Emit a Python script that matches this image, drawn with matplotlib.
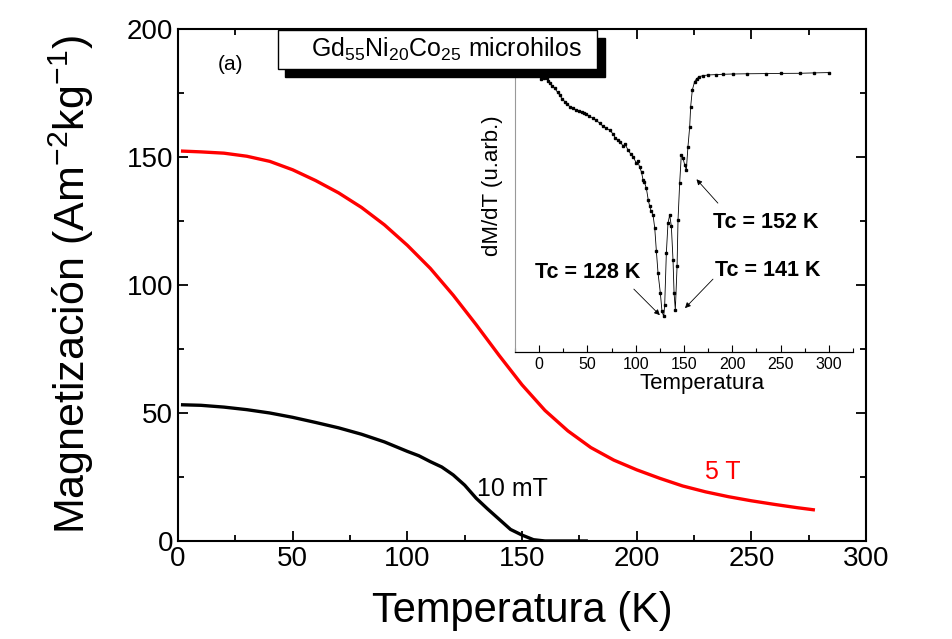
import matplotlib
matplotlib.use('Agg')
import matplotlib.pyplot as plt
from matplotlib.patches import Rectangle
from matplotlib.ticker import MultipleLocator

plt.rcParams['font.family'] = ['Liberation Sans', 'DejaVu Sans']
plt.rcParams['mathtext.fontset'] = 'custom'
plt.rcParams['mathtext.rm'] = 'Liberation Sans'
plt.rcParams['mathtext.default'] = 'regular'

# curva M(T) a 5 T
T_5T = [2, 10, 20, 30, 40, 50, 60, 70, 80, 90, 100, 110, 120, 130, 140, 150,
        160, 170, 180, 190, 200, 210, 220, 230, 240, 250, 260, 270, 277]
M_5T = [152.3, 152, 151.5, 150.3, 148.3, 145, 140.8, 136, 130.3, 123.5, 115.5,
        106.5, 96, 84.5, 72.5, 61, 51, 43, 36.5, 31.6, 27.8, 24.5, 21.5, 19.2,
        17.3, 15.7, 14.3, 13, 12.2]

# curva M(T) a 10 mT
T_10mT = [2, 10, 20, 30, 40, 50, 60, 70, 80, 90, 100, 105, 110, 115, 120, 125,
          130, 135, 140, 145, 150, 155, 160, 170, 178]
M_10mT = [53.2, 53, 52.3, 51.3, 50, 48.3, 46.3, 44.2, 41.7, 38.7, 35, 33.3, 31,
          28.9, 25.8, 21.8, 16.7, 12.5, 8.5, 4.5, 2.3, 0.5, 0, 0, 0]

# inset: dM/dT en unidades arbitrarias
T_der = [1.7, 5, 7.6, 9, 11, 13.5, 16.2, 19, 21.4, 24, 26.6, 29, 31.7, 35, 38.6,
         41, 44, 46.5, 49, 52, 55.9, 59, 62.8, 66, 69.7, 73, 76.6, 79, 81.7, 84,
         86.9, 89, 92, 95, 97.2, 100.7, 102, 104.1, 106, 107.6, 109, 111, 113,
         114.5, 116, 117.9, 119.7, 121.4, 123.1, 125.5, 127.2, 129, 130, 131.7,
         133.4, 135.2, 136.9, 138.6, 139.7, 141, 142.8, 143.8, 145.5, 147.2, 149,
         150.7, 152.4, 154.1, 155.9, 156.9, 158.6, 161, 163, 166, 170, 175, 183,
         190, 200.7, 215, 235, 250, 269.7, 285, 300]
dMdT = [273.3, 274, 274, 271, 269, 266, 264, 260, 257, 253, 250.7, 248, 245.7,
        244, 242.3, 241, 240, 239, 238.3, 236, 234, 232, 229, 226, 224, 222,
        218.3, 214, 212.3, 210, 206.3, 208, 202.3, 198, 195.7, 189, 191, 185,
        180, 172.3, 170, 164, 152, 145.7, 141, 137.3, 124, 100.7, 79, 59, 40.7,
        35.7, 47.3, 99, 129, 137.3, 125.7, 92.3, 59, 42.3, 85.7, 132.3, 169,
        197.3, 194, 187.3, 182.3, 205.7, 225.7, 245.7, 262.3, 270.7, 273.5,
        275.7, 276.7, 277.3, 277.7, 278, 278.3, 278.5, 278.7, 278.9, 279, 279.4,
        279.7]

# posiciones de las Tc (texto, inicio flecha, punta flecha)
tc_labels = ['Tc = 128 K', 'Tc = 141 K', 'Tc = 152 K']
tc_text = [(-4, 80), (182, 82), (180, 130)]
tc_start = [(96, 65), (182, 75), (187, 147)]
tc_tip = [(127, 35), (149, 42), (161, 175)]

fig = plt.figure(figsize=(9.52, 6.39), dpi=100)
ax = fig.add_axes([0.187, 0.1534, 0.7227, 0.8012])

ax.plot(T_5T, M_5T, color='red', lw=2.4)
ax.plot(T_10mT, M_10mT, color='black', lw=2.4)

ax.set_xlim(0, 300)
ax.set_ylim(0, 200)
ax.xaxis.set_major_locator(MultipleLocator(50))
ax.xaxis.set_minor_locator(MultipleLocator(25))
ax.yaxis.set_major_locator(MultipleLocator(50))
ax.yaxis.set_minor_locator(MultipleLocator(25))
ax.tick_params(which='both', direction='in', top=True, right=True, width=1.3,
               labelsize=20)
ax.tick_params(which='major', length=7)
ax.tick_params(which='minor', length=4)
for s in ax.spines.values():
    s.set_linewidth(1.5)
ax.set_xlabel('Temperatura (K)', fontsize=30, labelpad=14)
ax.set_ylabel('Magnetización (Am$^{-2}$kg$^{-1}$)', fontsize=31, labelpad=22)

ax.text(130.5, 20.5, '10 mT', fontsize=18, va='center', ha='left')
ax.text(230, 27, '5 T', fontsize=18, va='center', ha='left', color='red')
ax.text(23, 186, '(a)', fontsize=15, va='center', ha='center')

# inset
axin = fig.add_axes([0.541, 0.449, 0.355, 0.441])
axin.plot(T_der, dMdT, color='black', lw=0.6, marker='s', ms=1.8)
axin.set_xlim(-25, 325)
axin.set_ylim(0, 282)
axin.xaxis.set_major_locator(MultipleLocator(50))
axin.xaxis.set_minor_locator(MultipleLocator(25))
axin.tick_params(which='both', direction='in', labelsize=11.5, width=0.8)
axin.tick_params(which='major', length=5)
axin.tick_params(which='minor', length=3)
axin.set_yticks([])
axin.spines['top'].set_visible(False)
axin.spines['right'].set_visible(False)
axin.spines['left'].set_color('0.6')
axin.spines['left'].set_linewidth(0.8)
axin.spines['bottom'].set_linewidth(0.9)
axin.set_xlabel('Temperatura', fontsize=16)
axin.set_ylabel('dM/dT (u.arb.)', fontsize=16)
axin.xaxis.set_label_coords(0.553, -0.075)
axin.yaxis.set_label_coords(-0.036, 0.59)

for lab, p, s0, s1 in zip(tc_labels, tc_text, tc_start, tc_tip):
    axin.text(p[0], p[1], lab, fontsize=15.5, fontweight='bold', va='center',
              ha='left')
    axin.annotate('', xy=s1, xytext=s0,
                  arrowprops=dict(arrowstyle='-|>', color='black', lw=0.6,
                                  mutation_scale=8))

# caja del titulo con sombra
fig.patches.append(Rectangle((0.2994, 0.8795), 0.3357, 0.0611,
                             transform=fig.transFigure, facecolor='black',
                             edgecolor='black', zorder=5))
fig.patches.append(Rectangle((0.292, 0.892), 0.3351, 0.0611,
                             transform=fig.transFigure, facecolor='white',
                             edgecolor='black', lw=1, zorder=6))
fig.text(0.4685, 0.9225, 'Gd$_{55}$Ni$_{20}$Co$_{25}$ microhilos', fontsize=18,
         ha='center', va='center', zorder=7)

fig.savefig('out.png', dpi=100)
